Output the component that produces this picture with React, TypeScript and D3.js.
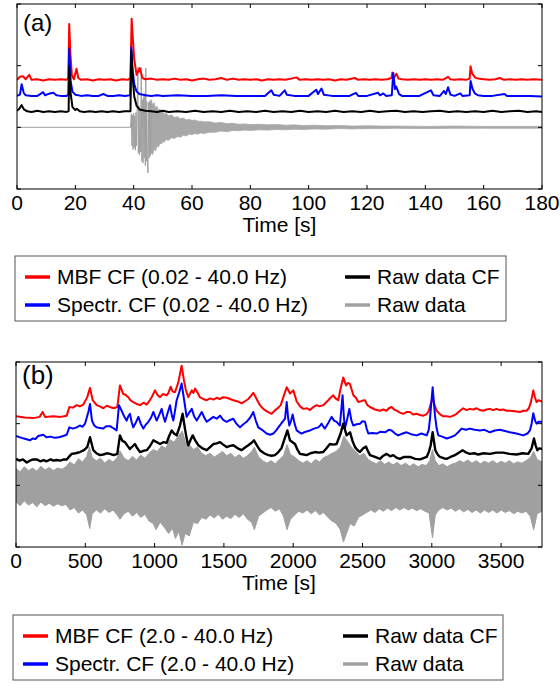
import React from "react";
import * as d3 from "d3";

type P = [number, number];

// ---------- Panel (a) data: time [s], normalised value ----------
const aTicksX = [0, 20, 40, 60, 80, 100, 120, 140, 160, 180];
const yTicks = [-1, 0, 1, 2];
const bTicksX = [0, 500, 1000, 1500, 2000, 2500, 3000, 3500];

const aRed: P[] = [[0,0.77],[1,0.82],[2,0.83],[3,0.78],[4.2,0.85],[5,0.77],[7,0.78],[9,0.76],[11,0.78],[13,0.77],[15,0.78],[17,0.77],[17.6,0.8],[17.9,1.675],[18.3,1.2],[18.8,0.85],[19.5,0.78],[20.4,0.95],[21,0.8],[22,0.77],[24,0.78],[26,0.76],[28,0.78],[30,0.77],[32,0.78],[34,0.76],[36,0.78],[38,0.77],[38.9,0.8],[39.3,1.76],[39.7,1.45],[40.2,1.1],[41,0.85],[42.1,0.96],[43,0.8],[44,0.78],[46,0.79],[48,0.77],[50,0.78],[52,0.77],[54,0.79],[56,0.77],[58,0.78],[60,0.76],[62,0.78],[64,0.79],[66,0.77],[68,0.78],[70,0.8],[72,0.77],[74,0.79],[76,0.77],[78,0.78],[80,0.77],[82,0.78],[84,0.76],[86,0.78],[88,0.77],[90,0.78],[92,0.77],[94,0.79],[95.8,0.81],[97,0.77],[99,0.78],[101,0.77],[103,0.78],[105,0.77],[107,0.78],[109,0.76],[111,0.78],[113,0.77],[115.8,0.8],[117,0.77],[119,0.78],[121,0.77],[123,0.78],[125,0.77],[127,0.78],[128.4,0.8],[128.7,0.89],[129.2,0.8],[130.1,0.87],[130.8,0.79],[132,0.78],[134,0.77],[136,0.78],[138,0.77],[140,0.78],[142,0.77],[144,0.78],[146,0.77],[147.8,0.82],[148.5,0.78],[150,0.77],[152,0.78],[154,0.77],[155.2,0.79],[155.5,0.99],[156,0.88],[157,0.81],[158,0.79],[160,0.78],[162,0.77],[164,0.78],[165.5,0.8],[167,0.77],[169,0.78],[171,0.77],[173,0.78],[175,0.77],[177,0.78],[180,0.77]];

const aBlue: P[] = [[0,0.51],[1,0.53],[1.6,0.7],[2.3,0.56],[3,0.52],[5,0.51],[7,0.51],[9,0.57],[9.6,0.52],[11.3,0.55],[12.5,0.56],[13.5,0.52],[15,0.51],[17,0.51],[17.6,0.53],[17.9,1.28],[18.4,0.75],[19,0.58],[20,0.53],[22,0.51],[24,0.52],[26,0.51],[28,0.51],[29.6,0.54],[31,0.51],[33,0.51],[35,0.52],[37,0.51],[38.8,0.52],[39.2,1.3],[39.6,0.95],[40.2,0.7],[41,0.58],[42,0.54],[44,0.52],[46,0.51],[48,0.52],[50,0.51],[55,0.52],[60,0.51],[65,0.51],[70,0.52],[75,0.51],[80,0.51],[85,0.51],[87.2,0.6],[88,0.53],[90,0.51],[91.8,0.6],[92.5,0.53],[95,0.51],[98,0.51],[100,0.51],[102.6,0.61],[103.2,0.54],[104.4,0.63],[105.2,0.53],[108,0.51],[111,0.51],[114,0.51],[116.2,0.56],[117,0.51],[120,0.51],[123.8,0.56],[124.5,0.52],[125.6,0.55],[126.5,0.51],[128.5,0.52],[129,0.88],[129.6,0.62],[130,0.66],[131,0.54],[132,0.51],[135,0.51],[138,0.51],[141.9,0.6],[142.8,0.52],[145,0.51],[146.4,0.59],[147,0.54],[147.8,0.65],[148.6,0.53],[150,0.51],[152,0.55],[152.7,0.51],[155.2,0.52],[155.5,0.75],[156.2,0.62],[157,0.55],[158,0.52],[160,0.51],[163,0.51],[167.1,0.54],[168,0.51],[172,0.51],[176,0.51],[180,0.5]];

const aBlack: P[] = [[0,0.27],[0.8,0.3],[1.6,0.36],[2.4,0.29],[3.5,0.26],[5,0.25],[7,0.27],[9,0.25],[11,0.26],[13,0.25],[15,0.26],[17,0.25],[17.7,0.26],[17.9,0.99],[18.4,0.55],[19,0.33],[20,0.28],[20.5,0.3],[21.5,0.26],[23,0.25],[25,0.26],[27,0.25],[29,0.26],[31,0.25],[33,0.26],[35,0.25],[37,0.26],[38.9,0.26],[39.2,1.25],[39.6,0.85],[40.2,0.5],[41,0.35],[42,0.29],[44,0.27],[46,0.26],[48,0.25],[50,0.27],[52,0.25],[55,0.26],[58,0.25],[61,0.27],[64,0.25],[67,0.26],[70,0.25],[73,0.27],[76,0.25],[79,0.26],[82,0.25],[85,0.27],[88,0.25],[91,0.26],[94,0.25],[97,0.27],[100,0.25],[103,0.26],[106,0.25],[109,0.27],[112,0.25],[115,0.26],[118,0.25],[121,0.27],[124,0.25],[127,0.26],[130,0.27],[133,0.25],[136,0.26],[139,0.25],[142,0.26],[145,0.27],[148,0.25],[151,0.26],[154,0.25],[157,0.26],[160,0.25],[163,0.27],[166,0.25],[169,0.26],[172,0.27],[175,0.25],[178,0.26],[180,0.25]];

// raw trace: flat pre-event part and strong first arrivals
const aRaw: P[] = [[0,0],[38.9,0],[39.2,0.22],[39.4,-0.3],[39.6,0.2],[39.8,-0.36],[40,0.23],[40.2,-0.33],[40.4,0.18],[40.6,-0.37],[40.8,0.24],[41,-0.3],[41.2,0.3],[41.45,0.98],[41.6,-0.42],[41.8,0.35],[42,-0.45],[42.2,0.3],[42.4,-0.4],[42.6,0.97],[42.8,-0.55],[43,0.45],[43.2,-0.58],[43.4,0.5],[43.6,-0.5],[43.8,0.55],[44,-0.62],[44.15,0.96],[44.3,-0.55],[44.5,0.42],[44.7,-0.6],[44.9,-0.74],[45.1,0.4],[45.3,-0.5],[45.5,0.42],[45.75,-0.46],[46,0.38]];
// raw trace coda: upper / lower excursions
const aRawUpper: P[] = [[45.5,0.42],[46,0.45],[46.5,0.36],[47,0.4],[47.5,0.31],[48,0.34],[48.5,0.27],[49,0.3],[49.5,0.24],[50,0.26],[50.5,0.21],[51,0.23],[52,0.19],[53,0.2],[54,0.16],[55,0.17],[56,0.14],[57,0.15],[58,0.12],[59,0.13],[60,0.11],[61,0.12],[62,0.1],[63,0.1],[64,0.09],[66,0.09],[68,0.07],[70,0.08],[72,0.06],[74,0.065],[76,0.05],[78,0.055],[80,0.045],[83,0.05],[86,0.04],[89,0.045],[92,0.035],[95,0.04],[98,0.03],[102,0.035],[106,0.025],[110,0.03],[115,0.02],[120,0.025],[125,0.02],[130,0.02],[140,0.015],[150,0.02],[160,0.015],[170,0.015],[180,0.015]];
const aRawLower: P[] = [[45.5,-0.46],[46,-0.42],[46.5,-0.44],[47,-0.36],[47.5,-0.38],[48,-0.3],[48.5,-0.32],[49,-0.26],[49.5,-0.27],[50,-0.23],[50.5,-0.24],[51,-0.2],[52,-0.21],[53,-0.17],[54,-0.18],[55,-0.15],[56,-0.16],[57,-0.13],[58,-0.14],[59,-0.11],[60,-0.12],[61,-0.1],[62,-0.11],[63,-0.09],[64,-0.1],[66,-0.08],[68,-0.08],[70,-0.06],[72,-0.07],[74,-0.05],[76,-0.055],[78,-0.045],[80,-0.05],[83,-0.04],[86,-0.045],[89,-0.035],[92,-0.04],[95,-0.03],[98,-0.035],[102,-0.025],[106,-0.03],[110,-0.02],[115,-0.025],[120,-0.02],[125,-0.02],[130,-0.015],[140,-0.02],[150,-0.015],[160,-0.015],[170,-0.015],[180,-0.015]];

// ---------- Panel (b) data ----------
const bRed: P[] = [[0,1.12],[60,1.1],[125,1.09],[170,1.11],[192,1.19],[210,1.11],[270,1.12],[320,1.11],[366,1.13],[385,1.27],[410,1.26],[438,1.3],[460,1.28],[486,1.31],[514,1.43],[534,1.58],[553,1.38],[582,1.3],[605,1.28],[630,1.25],[655,1.29],[678,1.27],[705,1.25],[731,1.27],[750,1.62],[774,1.48],[790,1.47],[810,1.43],[825,1.38],[846,1.35],[870,1.32],[895,1.3],[920,1.34],[943,1.31],[960,1.36],[979,1.43],[1003,1.54],[1020,1.47],[1039,1.43],[1060,1.48],[1087,1.46],[1100,1.5],[1116,1.6],[1130,1.52],[1147,1.51],[1171,1.67],[1195,1.94],[1212,1.7],[1225,1.55],[1243,1.43],[1268,1.54],[1280,1.5],[1292,1.57],[1310,1.5],[1327,1.43],[1350,1.4],[1376,1.38],[1400,1.41],[1425,1.39],[1448,1.42],[1470,1.4],[1495,1.43],[1520,1.42],[1545,1.4],[1568,1.38],[1600,1.36],[1628,1.33],[1650,1.36],[1676,1.4],[1695,1.45],[1712,1.5],[1736,1.4],[1760,1.3],[1784,1.24],[1810,1.2],[1844,1.16],[1870,1.22],[1893,1.26],[1910,1.3],[1929,1.43],[1953,1.59],[1977,1.49],[2001,1.54],[2025,1.36],[2050,1.28],[2073,1.24],[2100,1.25],[2121,1.22],[2145,1.27],[2169,1.3],[2190,1.28],[2217,1.3],[2235,1.34],[2253,1.38],[2270,1.42],[2289,1.46],[2305,1.41],[2325,1.38],[2342,1.57],[2361,1.75],[2381,1.62],[2395,1.66],[2410,1.64],[2434,1.46],[2452,1.42],[2470,1.35],[2495,1.37],[2518,1.38],[2535,1.3],[2554,1.27],[2590,1.23],[2626,1.21],[2650,1.23],[2674,1.21],[2690,1.25],[2710,1.27],[2728,1.23],[2746,1.21],[2770,1.18],[2794,1.16],[2820,1.19],[2842,1.19],[2865,1.15],[2890,1.16],[2915,1.14],[2939,1.13],[2960,1.15],[2975,1.19],[2992,1.32],[3006,1.42],[3020,1.3],[3035,1.21],[3060,1.15],[3083,1.12],[3107,1.12],[3131,1.11],[3155,1.13],[3179,1.16],[3203,1.21],[3227,1.25],[3250,1.22],[3275,1.24],[3300,1.23],[3323,1.25],[3347,1.22],[3371,1.21],[3395,1.23],[3419,1.24],[3443,1.22],[3467,1.24],[3490,1.22],[3515,1.23],[3540,1.21],[3564,1.21],[3600,1.2],[3636,1.19],[3660,1.21],[3684,1.21],[3700,1.25],[3715,1.35],[3732,1.54],[3745,1.42],[3756,1.35],[3770,1.38],[3795,1.36]];

const bBlue: P[] = [[0,0.8],[40,0.77],[70,0.75],[101,0.73],[120,0.76],[140,0.75],[160,0.8],[197,0.82],[220,0.78],[250,0.79],[280,0.77],[310,0.78],[340,0.8],[366,0.82],[385,0.94],[410,0.92],[438,0.94],[460,0.97],[480,0.95],[498,1],[522,1.19],[534,1.32],[548,1.05],[565,0.97],[582,0.94],[605,0.93],[630,0.92],[650,0.96],[678,0.96],[700,0.93],[726,0.89],[743,1.3],[762,1.21],[780,1.12],[798,1.05],[810,1.12],[822,1.16],[835,1.02],[846,0.94],[865,1.02],[883,1.11],[900,1],[919,0.92],[935,0.98],[955,1.03],[975,1.1],[991,1.19],[1003,1.12],[1015,1.05],[1035,1.15],[1051,1.24],[1063,1.12],[1075,1.03],[1095,1.18],[1111,1.3],[1123,1.15],[1135,1.05],[1148,1.22],[1159,1.38],[1178,1.51],[1195,1.65],[1212,1.4],[1231,1.11],[1250,1.18],[1268,1.24],[1285,1.12],[1304,1.05],[1322,1.12],[1340,1.19],[1358,1.1],[1376,1.03],[1400,1.07],[1424,1.11],[1448,1.08],[1472,1.13],[1495,1.06],[1520,1.03],[1545,1.06],[1568,1.08],[1590,1.0],[1616,0.94],[1640,0.99],[1664,1.03],[1690,1.1],[1712,1.19],[1730,1.05],[1748,0.94],[1775,0.9],[1808,0.84],[1833,0.82],[1857,0.84],[1880,0.9],[1893,0.94],[1920,1.02],[1941,1.08],[1953,1.35],[1963,1.1],[1972,0.97],[1985,1.05],[1996,1.15],[2010,1.0],[2025,0.89],[2045,0.86],[2061,0.84],[2090,0.87],[2121,0.89],[2150,0.92],[2181,0.94],[2195,0.97],[2205,1.0],[2218,0.95],[2229,0.92],[2255,1.02],[2277,1.11],[2295,1.05],[2313,1.03],[2337,0.97],[2356,1.46],[2366,1.1],[2373,0.92],[2390,1.08],[2405,1.24],[2420,1.05],[2434,0.97],[2458,0.99],[2482,1.0],[2500,1.04],[2518,1.03],[2530,0.92],[2542,0.84],[2570,0.85],[2602,0.84],[2630,0.87],[2662,0.86],[2690,0.9],[2710,0.89],[2735,0.84],[2758,0.81],[2790,0.84],[2818,0.86],[2850,0.83],[2890,0.81],[2925,0.84],[2963,0.81],[2978,0.9],[2987,1.08],[3006,1.59],[3023,1.13],[3035,0.92],[3047,0.81],[3075,0.79],[3107,0.76],[3135,0.78],[3167,0.81],[3190,0.86],[3215,0.92],[3245,0.9],[3275,0.92],[3310,0.9],[3347,0.89],[3380,0.9],[3419,0.86],[3455,0.89],[3491,0.9],[3528,0.88],[3564,0.86],[3610,0.84],[3660,0.81],[3690,0.84],[3708,0.89],[3720,1.0],[3732,1.17],[3745,1.05],[3756,1.0],[3770,1.03],[3795,1.03]];

const bBlack: P[] = [[0,0.43],[25,0.4],[50,0.42],[77,0.37],[100,0.4],[125,0.42],[149,0.42],[175,0.39],[200,0.41],[221,0.39],[250,0.42],[270,0.4],[293,0.41],[320,0.4],[345,0.42],[366,0.42],[385,0.47],[402,0.51],[430,0.52],[462,0.54],[490,0.57],[514,0.62],[534,0.78],[558,0.57],[580,0.52],[606,0.49],[630,0.5],[655,0.52],[678,0.51],[705,0.49],[731,0.51],[750,0.81],[768,0.72],[786,0.7],[805,0.64],[822,0.59],[840,0.63],[858,0.67],[875,0.6],[895,0.54],[920,0.56],[943,0.57],[965,0.63],[991,0.73],[1015,0.7],[1039,0.67],[1065,0.7],[1087,0.69],[1105,0.8],[1123,0.89],[1140,0.84],[1159,0.81],[1183,0.97],[1202,1.16],[1219,0.92],[1232,0.75],[1243,0.65],[1260,0.74],[1275,0.81],[1295,0.72],[1316,0.65],[1345,0.6],[1376,0.57],[1400,0.62],[1424,0.67],[1448,0.68],[1472,0.7],[1495,0.66],[1520,0.62],[1545,0.64],[1568,0.65],[1600,0.6],[1628,0.57],[1650,0.61],[1676,0.65],[1700,0.69],[1717,0.73],[1740,0.64],[1760,0.57],[1790,0.52],[1820,0.49],[1845,0.48],[1868,0.49],[1893,0.54],[1915,0.6],[1934,0.73],[1958,0.89],[1977,0.73],[1995,0.7],[2013,0.67],[2030,0.58],[2049,0.51],[2075,0.5],[2097,0.49],[2125,0.52],[2157,0.54],[2185,0.53],[2217,0.54],[2240,0.6],[2265,0.67],[2290,0.66],[2313,0.67],[2342,0.84],[2361,1.0],[2385,0.81],[2410,0.86],[2428,0.72],[2446,0.62],[2465,0.57],[2482,0.54],[2505,0.6],[2525,0.63],[2540,0.55],[2554,0.49],[2590,0.46],[2626,0.43],[2650,0.48],[2674,0.51],[2700,0.47],[2722,0.49],[2745,0.45],[2770,0.43],[2800,0.46],[2842,0.46],[2880,0.43],[2915,0.42],[2940,0.44],[2963,0.46],[2980,0.55],[2992,0.65],[3006,0.86],[3025,0.57],[3042,0.5],[3059,0.46],[3085,0.44],[3107,0.43],[3135,0.46],[3167,0.49],[3195,0.53],[3222,0.57],[3250,0.53],[3275,0.51],[3305,0.52],[3335,0.5],[3375,0.52],[3419,0.51],[3465,0.53],[3515,0.53],[3560,0.51],[3611,0.5],[3655,0.52],[3696,0.51],[3720,0.6],[3737,0.76],[3750,0.64],[3761,0.57],[3775,0.6],[3795,0.59]];

const bRawUpper: P[] = [[0,0.27],[30,0.22],[60,0.3],[90,0.24],[120,0.28],[150,0.23],[180,0.31],[210,0.25],[240,0.29],[270,0.24],[300,0.28],[330,0.26],[360,0.3],[390,0.38],[420,0.33],[450,0.43],[480,0.38],[510,0.47],[530,0.62],[550,0.45],[580,0.4],[610,0.44],[640,0.36],[670,0.42],[700,0.38],[730,0.45],[750,0.56],[780,0.44],[810,0.4],[840,0.47],[870,0.41],[900,0.49],[930,0.44],[960,0.52],[990,0.58],[1020,0.55],[1050,0.64],[1080,0.6],[1110,0.74],[1140,0.7],[1170,0.8],[1200,0.88],[1220,0.72],[1250,0.66],[1280,0.58],[1310,0.62],[1340,0.52],[1370,0.48],[1400,0.52],[1430,0.46],[1460,0.5],[1490,0.55],[1520,0.48],[1550,0.52],[1580,0.45],[1610,0.5],[1640,0.44],[1670,0.48],[1700,0.55],[1720,0.62],[1750,0.46],[1780,0.4],[1810,0.36],[1840,0.4],[1870,0.35],[1900,0.42],[1930,0.48],[1955,0.66],[1980,0.5],[2010,0.46],[2040,0.4],[2070,0.36],[2100,0.4],[2130,0.35],[2160,0.42],[2190,0.38],[2220,0.45],[2250,0.48],[2280,0.52],[2310,0.55],[2340,0.62],[2365,0.8],[2390,0.72],[2420,0.62],[2450,0.55],[2480,0.48],[2510,0.52],[2540,0.42],[2570,0.38],[2600,0.35],[2630,0.4],[2660,0.34],[2690,0.38],[2720,0.33],[2750,0.37],[2780,0.32],[2810,0.36],[2840,0.31],[2870,0.35],[2900,0.3],[2930,0.34],[2960,0.32],[2985,0.4],[3005,0.58],[3025,0.4],[3050,0.32],[3080,0.35],[3110,0.3],[3140,0.34],[3170,0.36],[3200,0.4],[3230,0.37],[3260,0.41],[3290,0.36],[3320,0.4],[3350,0.35],[3380,0.39],[3410,0.36],[3440,0.4],[3470,0.35],[3500,0.39],[3530,0.36],[3560,0.4],[3590,0.35],[3620,0.38],[3650,0.36],[3680,0.4],[3710,0.45],[3735,0.55],[3760,0.42],[3795,0.38]];

const bRawLower: P[] = [[0,-0.27],[30,-0.33],[60,-0.25],[90,-0.32],[120,-0.28],[150,-0.35],[180,-0.27],[210,-0.33],[240,-0.29],[270,-0.34],[300,-0.3],[330,-0.33],[360,-0.31],[390,-0.4],[420,-0.36],[450,-0.45],[480,-0.4],[510,-0.48],[532,-0.7],[550,-0.46],[580,-0.4],[610,-0.45],[640,-0.38],[670,-0.44],[700,-0.4],[730,-0.48],[750,-0.55],[780,-0.46],[810,-0.42],[840,-0.5],[870,-0.44],[900,-0.52],[930,-0.47],[960,-0.58],[990,-0.62],[1010,-0.72],[1040,-0.6],[1070,-0.68],[1100,-0.78],[1130,-0.7],[1150,-0.86],[1175,-0.75],[1198,-0.97],[1220,-0.78],[1250,-0.82],[1280,-0.6],[1310,-0.62],[1340,-0.52],[1370,-0.55],[1400,-0.48],[1430,-0.53],[1460,-0.47],[1490,-0.55],[1520,-0.5],[1550,-0.54],[1580,-0.47],[1610,-0.52],[1640,-0.46],[1670,-0.55],[1700,-0.6],[1720,-0.72],[1750,-0.5],[1780,-0.45],[1810,-0.4],[1840,-0.36],[1870,-0.42],[1900,-0.38],[1930,-0.5],[1955,-0.72],[1980,-0.55],[2010,-0.48],[2040,-0.42],[2070,-0.45],[2100,-0.4],[2130,-0.46],[2160,-0.41],[2190,-0.48],[2220,-0.44],[2250,-0.52],[2280,-0.58],[2310,-0.62],[2340,-0.72],[2362,-0.92],[2385,-0.78],[2410,-0.62],[2440,-0.66],[2470,-0.52],[2500,-0.48],[2530,-0.44],[2560,-0.4],[2590,-0.44],[2620,-0.38],[2650,-0.42],[2680,-0.37],[2710,-0.41],[2740,-0.36],[2770,-0.4],[2800,-0.36],[2830,-0.4],[2860,-0.37],[2890,-0.41],[2920,-0.38],[2950,-0.42],[2980,-0.45],[3005,-0.85],[3025,-0.48],[3050,-0.4],[3080,-0.36],[3110,-0.4],[3140,-0.37],[3170,-0.42],[3200,-0.38],[3230,-0.43],[3260,-0.39],[3290,-0.44],[3320,-0.4],[3350,-0.45],[3380,-0.4],[3410,-0.44],[3440,-0.4],[3470,-0.45],[3500,-0.4],[3530,-0.44],[3560,-0.41],[3590,-0.46],[3620,-0.42],[3650,-0.45],[3680,-0.42],[3710,-0.5],[3735,-0.72],[3760,-0.46],[3795,-0.42]];

const legendA = ["MBF CF (0.02 - 40.0 Hz)", "Spectr. CF (0.02 - 40.0 Hz)", "Raw data CF", "Raw data"];
const legendB = ["MBF CF (2.0 - 40.0 Hz)", "Spectr. CF (2.0 - 40.0 Hz)", "Raw data CF", "Raw data"];
const xLabel = "Time [s]";

const COLORS = { red: "#ff0000", blue: "#0000ff", black: "#000000", gray: "#a0a0a0" };
const FONT = "'Liberation Sans', Arial, Helvetica, sans-serif";

type Sc = d3.ScaleLinear<number, number>;

type PanelProps = {
  id: string;
  label: string;
  top: number;
  bottom: number;
  left: number;
  right: number;
  domainX: [number, number];
  ticks: number[];
  children: (x: Sc, y: Sc) => React.ReactNode;
  labelY: number;
  labelSize: number;
};

function Panel({ id, label, top, bottom, left, right, domainX, ticks, children, labelY, labelSize }: PanelProps) {
  const x = d3.scaleLinear().domain(domainX).range([left, right]);
  const y = d3.scaleLinear().domain([-1, 2]).range([bottom, top]);
  const tl = 4;
  return (
    <g>
      <defs>
        <clipPath id={id}>
          <rect x={left} y={top} width={right - left} height={bottom - top} />
        </clipPath>
      </defs>
      <g clipPath={`url(#${id})`}>{children(x, y)}</g>
      <text x={left + 6} y={labelY} fontSize={labelSize} fontFamily={FONT}>{label}</text>
      <rect x={left} y={top} width={right - left} height={bottom - top} fill="none" stroke="#000" strokeWidth={1} />
      {ticks.map((t) => (
        <g key={"x" + t}>
          <line x1={x(t)} x2={x(t)} y1={bottom} y2={bottom - tl} stroke="#000" />
          <line x1={x(t)} x2={x(t)} y1={top} y2={top + tl} stroke="#000" />
          <text x={x(t)} y={bottom + 21} textAnchor="middle" fontSize={21} fontFamily={FONT}>{t}</text>
        </g>
      ))}
      {yTicks.map((t) => (
        <g key={"y" + t}>
          <line x1={left} x2={left + tl} y1={y(t)} y2={y(t)} stroke="#000" />
          <line x1={right} x2={right - tl} y1={y(t)} y2={y(t)} stroke="#000" />
        </g>
      ))}
      <text x={(left + right) / 2} y={bottom + 43} textAnchor="middle" fontSize={21} fontFamily={FONT}>{xLabel}</text>
    </g>
  );
}

function Legend({ x, y, w, h, labels }: { x: number; y: number; w: number; h: number; labels: string[] }) {
  const rows = [
    { c: COLORS.red, lx: 10, ty: 28, t: labels[0] },
    { c: COLORS.blue, lx: 10, ty: 56, t: labels[1] },
    { c: COLORS.black, lx: 330, ty: 28, t: labels[2] },
    { c: COLORS.gray, lx: 330, ty: 56, t: labels[3] },
  ];
  return (
    <g>
      <rect x={x} y={y} width={w} height={h} fill="#fff" stroke="#555" strokeWidth={1} />
      {rows.map((r, i) => (
        <g key={i}>
          <line x1={x + r.lx} x2={x + r.lx + 25} y1={y + r.ty - 7} y2={y + r.ty - 7} stroke={r.c} strokeWidth={3.5} />
          <text x={x + r.lx + 32} y={y + r.ty} fontSize={21} fontFamily={FONT}>{r.t}</text>
        </g>
      ))}
    </g>
  );
}

function bandPath(ln: d3.Line<P>, upper: P[], lower: P[]) {
  const up = ln(upper) || "";
  const low = (ln([...lower].reverse()) || "").replace(/^M/, "L");
  return up + low + "Z";
}

export default function App() {
  const lineOf = (x: Sc, y: Sc) => d3.line<P>().x((d) => x(d[0])).y((d) => y(d[1]));

  return (
    <svg width={560} height={683} style={{ position: "absolute", left: 0, top: 0, background: "#fff" }}>
      <rect width={560} height={683} fill="#fff" />
      <Panel id="clipA" label="(a)" top={4} bottom={189} left={17} right={542} domainX={[0, 180]} ticks={aTicksX} labelY={31} labelSize={24}>
        {(x, y) => {
          const ln = lineOf(x, y);
          return (
            <g fill="none" strokeLinejoin="round">
              <path d={bandPath(ln, aRawUpper, aRawLower)} fill="#a8a8a8" stroke="#a8a8a8" strokeWidth={0.8} />
              <path d={ln(aRaw) || ""} stroke={COLORS.gray} strokeWidth={1} />
              <path d={ln(aRed) || ""} stroke={COLORS.red} strokeWidth={2} />
              <path d={ln(aBlue) || ""} stroke={COLORS.blue} strokeWidth={2} />
              <path d={ln(aBlack) || ""} stroke={COLORS.black} strokeWidth={2} />
            </g>
          );
        }}
      </Panel>
      <Legend x={15} y={256} w={491} h={65} labels={legendA} />
      <Panel id="clipB" label="(b)" top={362} bottom={547} left={16} right={542} domainX={[0, 3795]} ticks={bTicksX} labelY={384} labelSize={26}>
        {(x, y) => {
          const ln = lineOf(x, y);
          return (
            <g fill="none" strokeLinejoin="round">
              <path d={bandPath(ln, bRawUpper, bRawLower)} fill={COLORS.gray} stroke={COLORS.gray} strokeWidth={1} />
              <path d={ln(bRed) || ""} stroke={COLORS.red} strokeWidth={2} />
              <path d={ln(bBlue) || ""} stroke={COLORS.blue} strokeWidth={2} />
              <path d={ln(bBlack) || ""} stroke={COLORS.black} strokeWidth={2.4} />
            </g>
          );
        }}
      </Panel>
      <Legend x={13} y={615} w={490} h={65} labels={legendB} />
    </svg>
  );
}
